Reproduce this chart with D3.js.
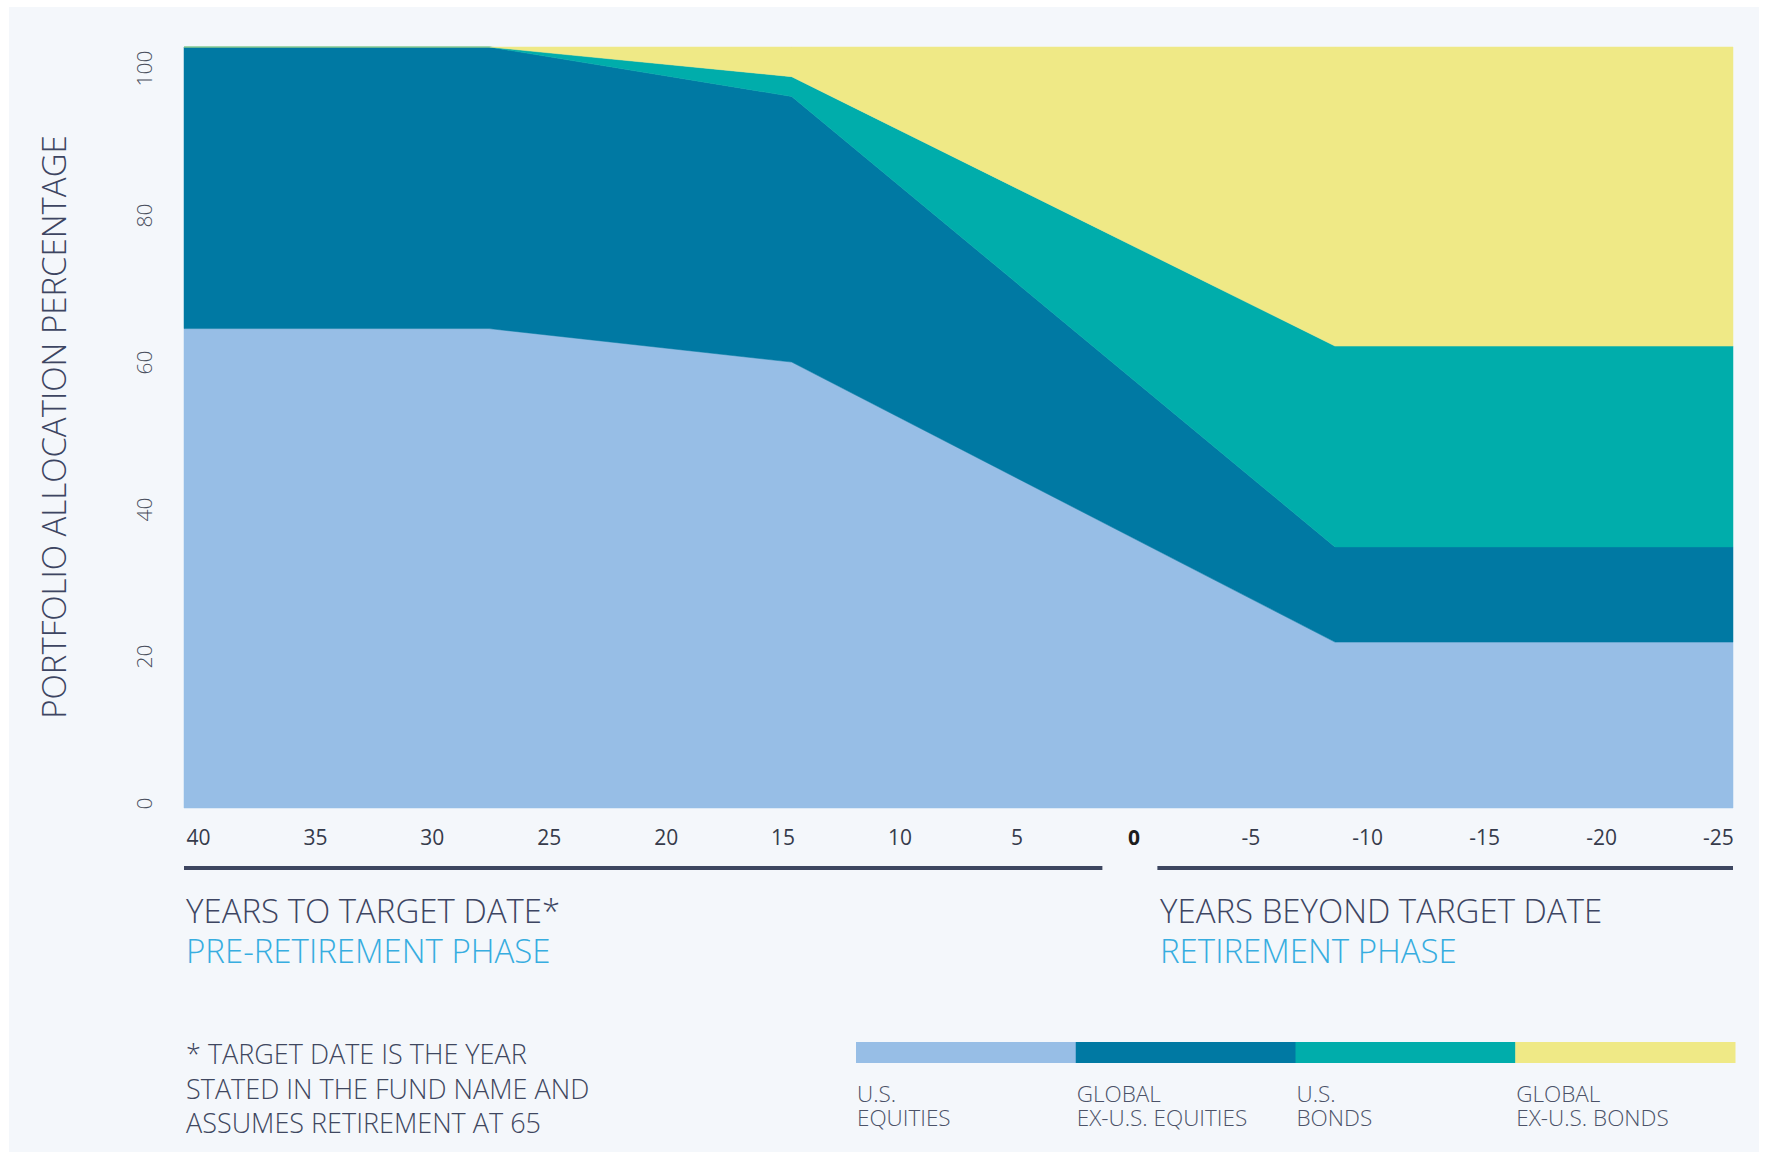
<!DOCTYPE html>
<html lang="en">
  <head>
    <meta charset="utf-8">
    <title>Target date glide path</title>
    <style type="text/css">
body {
  margin: 0;
  background: #ffffff;
}
text {
  font-family: "Open Sans", sans-serif;
  font-weight: 350;
}
    </style>
  </head>

  <body>
    <div id="chart"></div>

    <script src="https://cdn.jsdelivr.net/npm/d3@7/dist/d3.min.js"></script>
    <script>
      // glide path (years to target date, % of portfolio)
      var years = [40, 27.2, 14.5, -8.3, -25];
      var usEquities = [63, 63, 58.6, 21.8, 21.8];
      var globalEquities = [37, 37, 34.9, 12.5, 12.5];
      var usBonds = [0, 0, 2.6, 26.4, 26.4];
      var globalBonds = [0, 0, 3.9, 39.3, 39.3];

      var tickYears = [40, 35, 30, 25, 20, 15, 10, 5, 0, -5, -10, -15, -20, -25];
      var tickPct = [0, 20, 40, 60, 80, 100];

      var keys = ["usEq", "globalEq", "usBonds", "globalBonds"];
      var colors = ["#97bee6", "#0079a3", "#00adab", "#efe986"];
      var legendLines = [["U.S.", "EQUITIES"], ["GLOBAL", "EX-U.S. EQUITIES"], ["U.S.", "BONDS"], ["GLOBAL", "EX-U.S. BONDS"]];
      var footnote = ["* TARGET DATE IS THE YEAR", "STATED IN THE FUND NAME AND", "ASSUMES RETIREMENT AT 65"];

      var table = years.map(function(yr, i) {
        return {year: yr, usEq: usEquities[i], globalEq: globalEquities[i], usBonds: usBonds[i], globalBonds: globalBonds[i]};
      });

      var W = 1768, H = 1159;
      var svg = d3.select("#chart").append("svg")
          .attr("width", W)
          .attr("height", H);

      svg.append("rect")
          .attr("x", 9).attr("y", 7)
          .attr("width", W - 18).attr("height", H - 14)
          .attr("fill", "#f4f7fb");

      var x = d3.scaleLinear().domain([40, -25]).range([184, 1733]);
      var y = d3.scaleLinear().domain([0, 100]).range([808, 47]);

      // the printed labels sit a little inside the plot edges
      var xLab = d3.scalePoint().domain(tickYears).range([198, 1718]);
      var yLab = d3.scaleLinear().domain([0, 100]).range([803, 68]);

      var color = d3.scaleOrdinal().domain(keys).range(colors);

      var series = d3.stack().keys(keys)(table);

      var area = d3.area()
          .x(function(d) { return x(d.data.year); })
          .y0(function(d) { return y(d[0]); })
          .y1(function(d) { return y(d[1]); });

      svg.append("g").selectAll("path")
        .data(series)
        .enter().append("path")
          .attr("d", area)
          .attr("fill", function(d) { return color(d.key); })
          .attr("stroke", function(d) { return color(d.key); })
          .attr("stroke-width", 0.5);

      // x axis labels
      var gx = svg.append("g")
          .attr("transform", "translate(0,845)")
          .call(d3.axisBottom(xLab).tickSize(0).tickFormat(function(d) { return String(d); }));
      gx.select(".domain").remove();
      gx.selectAll("text")
          .attr("y", 0)
          .attr("dy", null)
          .attr("font-family", null)
          .attr("font-size", 21)
          .attr("fill", function(d) { return d === 0 ? "#1d1d1d" : "#363b4b"; })
          .style("font-weight", function(d) { return d === 0 ? 700 : 400; });

      // y axis labels, turned
      var gy = svg.append("g")
          .attr("transform", "translate(152,0)")
          .call(d3.axisLeft(yLab).tickValues(tickPct).tickSize(0));
      gy.select(".domain").remove();
      gy.selectAll("text")
          .attr("x", 0)
          .attr("dy", null)
          .attr("font-family", null)
          .attr("transform", "rotate(-90)")
          .attr("text-anchor", "middle")
          .attr("font-size", 21)
          .attr("fill", "#4a4f5e");

      svg.append("text")
          .attr("transform", "translate(66,427) rotate(-90)")
          .attr("text-anchor", "middle")
          .attr("font-size", 33)
          .attr("fill", "#3d4562")
          .text("PORTFOLIO ALLOCATION PERCENTAGE");

      // phase rules under the axis
      var z = xLab(0);
      svg.append("line")
          .attr("x1", x.range()[0]).attr("x2", z - 31)
          .attr("y1", 868).attr("y2", 868)
          .attr("stroke", "#3d4660").attr("stroke-width", 4);
      svg.append("line")
          .attr("x1", z + 24).attr("x2", x.range()[1])
          .attr("y1", 868).attr("y2", 868)
          .attr("stroke", "#3d4660").attr("stroke-width", 4);

      function block(xp, yp, lines, size, gap, fills) {
        var t = svg.append("text")
            .attr("x", xp).attr("y", yp)
            .attr("font-size", size);
        t.selectAll("tspan")
          .data(lines)
          .enter().append("tspan")
            .attr("x", xp)
            .attr("dy", function(d, i) { return i === 0 ? 0 : gap; })
            .attr("fill", function(d, i) { return fills[i]; })
            .text(function(d) { return d; });
        return t;
      }

      block(186, 923, ["YEARS TO TARGET DATE*", "PRE-RETIREMENT PHASE"], 33, 40, ["#3d4562", "#37ade0"]);
      block(1160, 923, ["YEARS BEYOND TARGET DATE", "RETIREMENT PHASE"], 33, 40, ["#3d4562", "#37ade0"]);
      block(186, 1064, footnote, 27, 34.5, ["#3f4760", "#3f4760", "#3f4760"]);

      // legend strip
      var lx = d3.scaleBand().domain(keys).range([856, 1735]);
      svg.append("g").selectAll("rect")
        .data(keys)
        .enter().append("rect")
          .attr("x", function(d) { return lx(d); })
          .attr("y", 1042)
          .attr("width", lx.bandwidth() + 0.5)
          .attr("height", 21)
          .attr("fill", function(d) { return color(d); });
      keys.forEach(function(k, i) {
        block(lx(k) + 1, 1102, legendLines[i], 22.5, 23.5, ["#4b5268", "#4b5268"]);
      });
    </script>
  </body>
</html>
